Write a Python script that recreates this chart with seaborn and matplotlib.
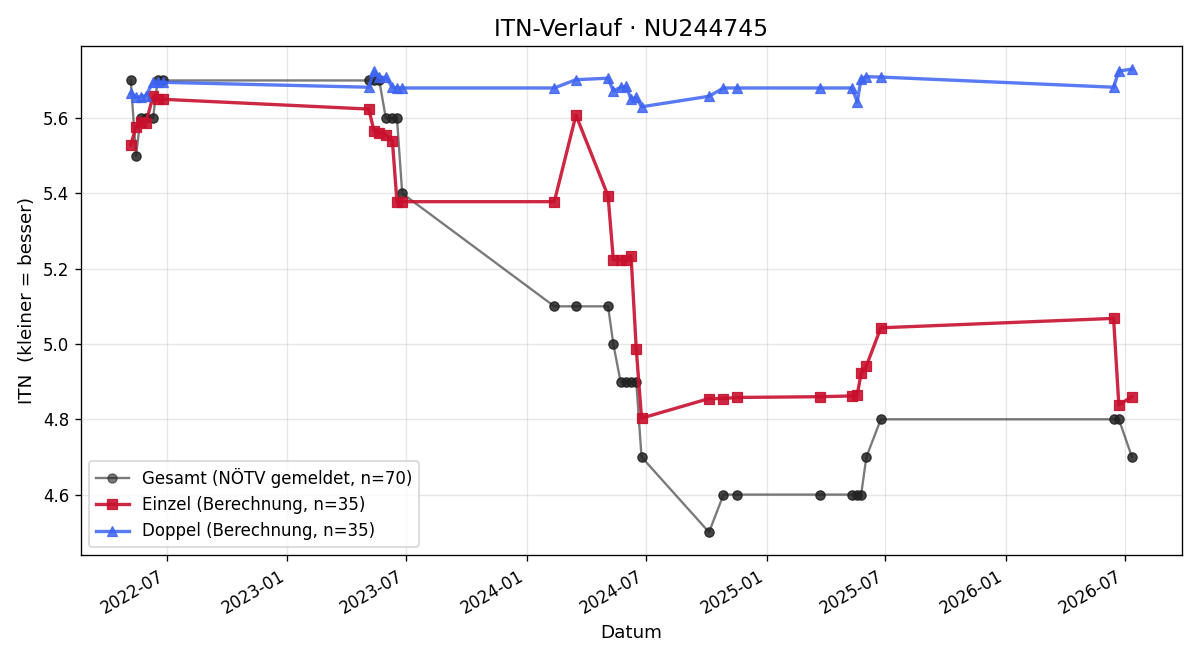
import pandas as pd
import seaborn as sns
import matplotlib.pyplot as plt
import matplotlib.dates as mdates

dates = [
    "2022-05-07", "2022-05-15", "2022-05-22", "2022-05-30", "2022-06-10", "2022-06-17", "2022-06-25",
    "2023-05-05", "2023-05-13", "2023-05-21", "2023-05-31", "2023-06-10", "2023-06-17", "2023-06-25",
    "2024-02-12", "2024-03-16", "2024-05-04", "2024-05-12", "2024-05-23", "2024-06-01", "2024-06-08",
    "2024-06-16", "2024-06-24",
    "2024-10-05", "2024-10-27", "2024-11-17",
    "2025-03-23", "2025-05-11", "2025-05-19", "2025-05-25", "2025-06-02", "2025-06-24",
    "2026-06-14", "2026-06-22", "2026-07-12",
]

# NÖTV-Wert je Spieltag (gilt für Einzel und Doppel -> n=70)
gesamt = [
    5.7, 5.5, 5.6, 5.6, 5.6, 5.7, 5.7,
    5.7, 5.7, 5.7, 5.6, 5.6, 5.6, 5.4,
    5.1, 5.1, 5.1, 5.0, 4.9, 4.9, 4.9, 4.9, 4.7,
    4.5, 4.6, 4.6,
    4.6, 4.6, 4.6, 4.6, 4.7, 4.8,
    4.8, 4.8, 4.7,
]

einzel = [
    5.529, 5.576, 5.589, 5.587, 5.658, 5.650, 5.650,
    5.624, 5.566, 5.561, 5.556, 5.540, 5.378, 5.378,
    5.378, 5.608, 5.393, 5.224, 5.224, 5.224, 5.235, 4.987, 4.803,
    4.855, 4.855, 4.858,
    4.860, 4.862, 4.865, 4.922, 4.942, 5.043,
    5.068, 4.838, 4.860,
]

doppel = [
    5.666, 5.655, 5.657, 5.660, 5.695, 5.695, 5.695,
    5.682, 5.725, 5.708, 5.708, 5.682, 5.680, 5.680,
    5.680, 5.702, 5.706, 5.672, 5.682, 5.684, 5.650, 5.655, 5.630,
    5.658, 5.680, 5.680,
    5.680, 5.680, 5.643, 5.705, 5.710, 5.709,
    5.682, 5.725, 5.730,
]

df = pd.DataFrame({
    "Datum": pd.to_datetime(dates),
    "Gesamt": gesamt,
    "Einzel": einzel,
    "Doppel": doppel,
})
df_g = pd.concat([df, df]).sort_values("Datum", kind="stable")

fig, ax = plt.subplots(figsize=(10, 5.5), dpi=120)

sns.lineplot(x="Datum", y="Gesamt", data=df_g, ax=ax, estimator=None, sort=False,
             color="#222222", alpha=0.6, marker="o", markersize=5.5,
             markeredgecolor="#222222", linewidth=1.4,
             label="Gesamt (NÖTV gemeldet, n=70)")
sns.lineplot(x="Datum", y="Einzel", data=df, ax=ax, color="#c8102e", alpha=0.9,
             marker="s", markersize=6, markeredgecolor="#c8102e", linewidth=2,
             label="Einzel (Berechnung, n=35)")
sns.lineplot(x="Datum", y="Doppel", data=df, ax=ax, color="#3d63f2", alpha=0.85,
             marker="^", markersize=6, markeredgecolor="#3d63f2", linewidth=2,
             label="Doppel (Berechnung, n=35)")

ax.set_title("ITN-Verlauf · NU244745", fontsize=14)
ax.set_xlabel("Datum", fontsize=11)
ax.set_ylabel("ITN  (kleiner = besser)", fontsize=11)
ax.xaxis.set_major_locator(mdates.MonthLocator(bymonth=[1, 7]))
ax.xaxis.set_major_formatter(mdates.DateFormatter("%Y-%m"))
ax.grid(True, alpha=0.3)
ax.legend(loc="lower left", fontsize=10)
fig.autofmt_xdate()

plt.tight_layout()
plt.savefig("out.png")
